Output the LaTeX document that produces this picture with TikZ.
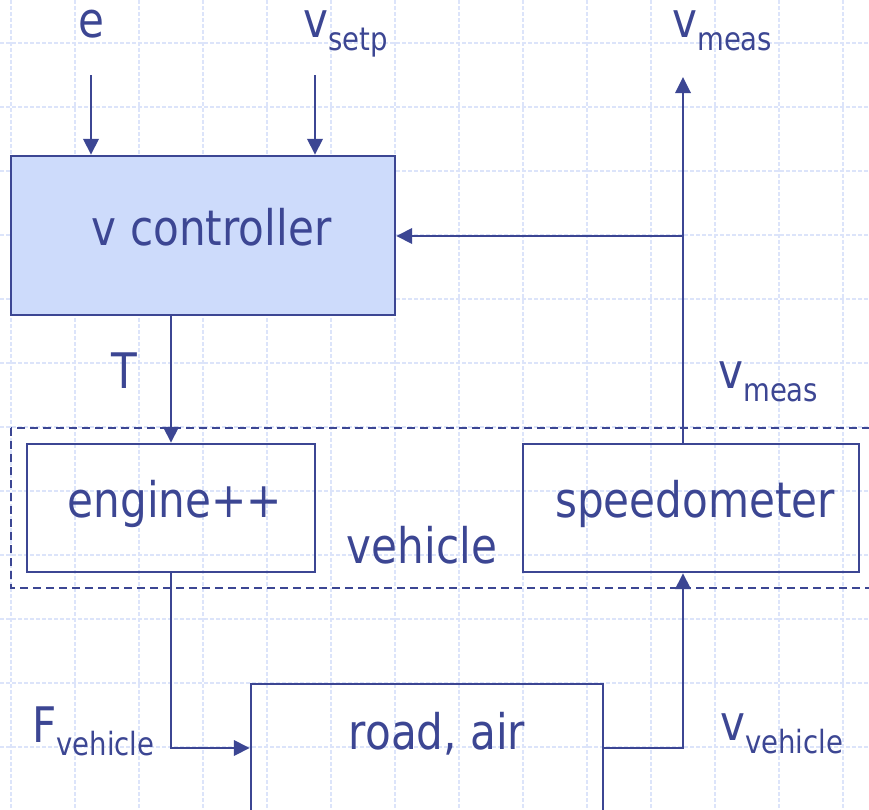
\documentclass[tikz,border=0pt]{standalone}
\usepackage{fontspec}
\setmainfont[FakeStretch=0.86]{DejaVu Sans}
\usepackage{tikz}
\usetikzlibrary{arrows.meta}
\definecolor{navy}{HTML}{3C4693}
\definecolor{paleblue}{HTML}{CDDBFB}
\definecolor{gridblue}{HTML}{DCE4FA}
\newcommand\bigsz{\fontsize{36.75pt}{44pt}\selectfont}
\newcommand\lowsub[1]{\raisebox{-10pt}{\fontsize{24pt}{28pt}\selectfont #1}}
\tikzset{
  blockbox/.style={draw=navy, line width=1.8pt, text=navy, font=\bigsz,
    text height=22pt, text depth=7.35pt, inner sep=0pt},
  flow/.style={draw=navy, line width=1.8pt, -{Triangle[length=12pt,width=11.5pt]}},
  signal/.style={text=navy, font=\bigsz, inner sep=0pt},
  gridline/.style={draw=gridblue, line width=0.8pt, dash pattern=on 3pt off 1.5pt}
}
\begin{document}
\begin{tikzpicture}[x=0.75pt, y=-0.75pt]
        \useasboundingbox (0,0) rectangle (869,810);
        \clip (0,0) rectangle (869,810);
        \fill[white] (0,0) rectangle (869,810);
        % background grid
        \foreach \gx in {11,75,...,843}
          \draw[gridline] (\gx,0) -- (\gx,810);
        \foreach \gy in {43,107,...,747}
          \draw[gridline] (0,\gy) -- (869,\gy);
        % vehicle boundary
        \draw[navy, line width=1.4pt, dash pattern=on 6pt off 3.75pt] (11,428) rectangle (885,588);
        \node[signal, anchor=base] (vehlbl) at (422,563) {vehicle};
        % blocks
        \node[blockbox, fill=paleblue, minimum width=288pt, minimum height=119.25pt] (ctrl) at (203,235.5) {\hspace*{13pt}v controller};
        \node[blockbox, minimum width=216pt, minimum height=96pt] (eng) at (171,508) {\hspace*{6pt}engine++};
        \node[blockbox, minimum width=252pt, minimum height=96pt] (speedo) at (691,508) {\hspace*{6pt}speedometer};
        \node[blockbox, text depth=19.1pt, minimum width=264pt, minimum height=96pt] (road) at (427,748) {\hspace*{15pt}road, air};
        % signal labels
        \node[signal, anchor=base] (elbl) at (91,37) {e};
        \node[signal, anchor=base west] (setplbl) at (303,37) {v\lowsub{setp}};
        \node[signal, anchor=base west] (meastop) at (672,37) {v\lowsub{meas}};
        \node[signal, anchor=base] (tlbl) at (124,388) {T};
        \node[signal, anchor=base west] (measmid) at (718,388) {v\lowsub{meas}};
        \node[signal, anchor=base west] (forcelbl) at (32,742) {F\lowsub{vehicle}};
        \node[signal, anchor=base west] (speedlbl) at (720,740) {v\lowsub{vehicle}};
        % connectors
        \coordinate (ein) at (91,75);
        \coordinate (setpin) at (315,75);
        \coordinate (tap) at (683,236);
        \coordinate (vout) at (683,77);
        \draw[flow] (ein) -- (ein |- ctrl.north);
        \draw[flow] (setpin) -- (setpin |- ctrl.north);
        \draw[flow] (ctrl.south -| eng.north) -- (eng.north);
        \draw[flow] (eng.south) |- (road.west);
        \draw[flow] (road.east) -| (speedo.south -| tap);
        \draw[flow] (speedo.north -| tap) -- (vout);
        \draw[flow] (tap) -- (tap -| ctrl.east);
      \end{tikzpicture}
\end{document}
